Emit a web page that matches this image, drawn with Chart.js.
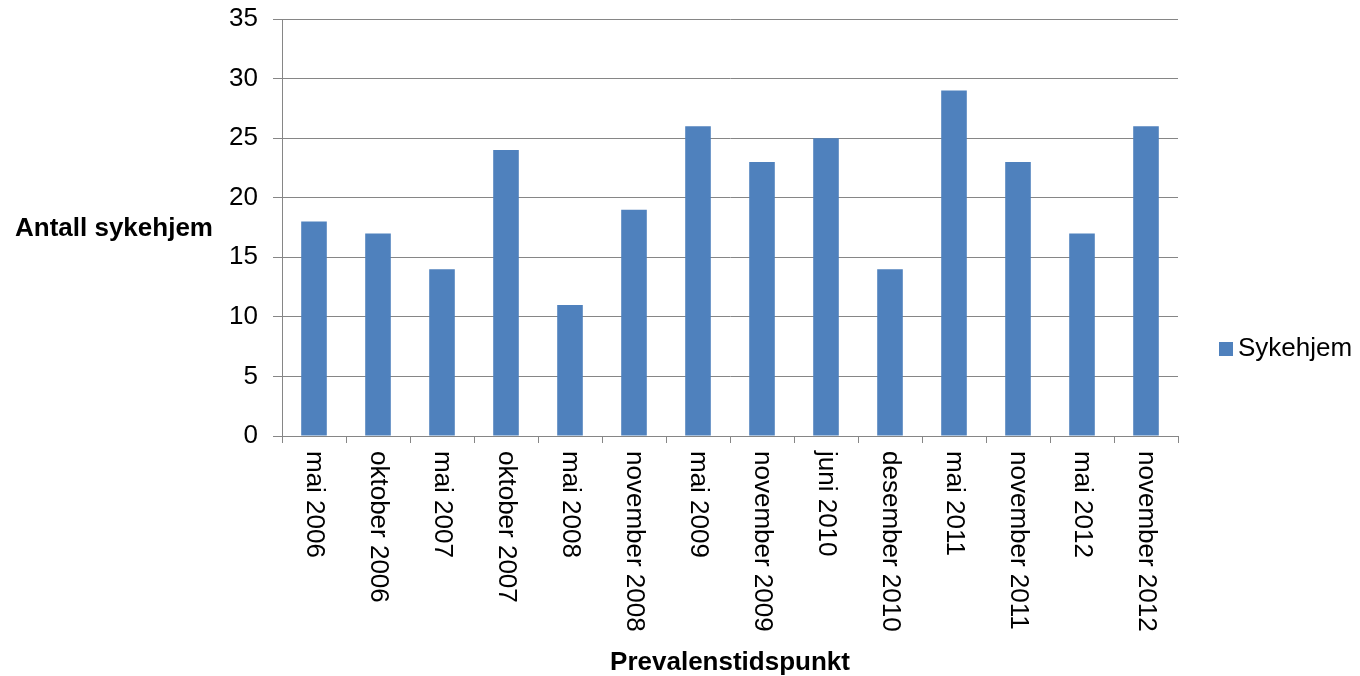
<!DOCTYPE html>
<html lang="no">
<head>
<meta charset="utf-8">
<title>Antall sykehjem per prevalenstidspunkt</title>
<script src="https://cdn.jsdelivr.net/npm/chart.js@4/dist/chart.umd.min.js"></script>
<style>
  html, body { margin: 0; padding: 0; background: #ffffff; }
  #wrap { position: relative; width: 1360px; height: 676px; }
</style>
</head>
<body>
<div id="wrap"><canvas id="chart"></canvas></div>
<script>
// Prevalence survey dates and number of nursing homes taking part
const categories = [
  'mai 2006', 'oktober 2006', 'mai 2007', 'oktober 2007', 'mai 2008',
  'november 2008', 'mai 2009', 'november 2009', 'juni 2010', 'desember 2010',
  'mai 2011', 'november 2011', 'mai 2012', 'november 2012'
];
const sykehjem = [18, 17, 14, 24, 11, 19, 26, 23, 25, 14, 29, 23, 17, 26];
const seriesName = 'Sykehjem';
const yTicks = [0, 5, 10, 15, 20, 25, 30, 35];
const yTitle = 'Antall sykehjem';
const xTitle = 'Prevalenstidspunkt';

const FONT = '"Liberation Sans", Arial, Helvetica, sans-serif';
const BAR = '#4F81BD';
const GRID = '#868686';

// Category labels read top-to-bottom, axis titles and the legend
const decorations = {
  id: 'decorations',
  afterDraw(chart) {
    const ctx = chart.ctx;
    const x = chart.scales.x;
    const area = chart.chartArea;
    ctx.save();
    ctx.fillStyle = '#000000';

    // rotated category labels
    ctx.font = '26px ' + FONT;
    ctx.textAlign = 'left';
    ctx.textBaseline = 'middle';
    categories.forEach((label, i) => {
      const px = x.getPixelForValue(i);
      ctx.save();
      ctx.translate(px, area.bottom + 15);
      ctx.rotate(Math.PI / 2);
      ctx.fillText(label, 0, 0);
      ctx.restore();
    });

    // axis titles
    ctx.font = 'bold 26px ' + FONT;
    ctx.textAlign = 'left';
    ctx.fillText(yTitle, 15, 229);
    ctx.textAlign = 'center';
    ctx.fillText(xTitle, (area.left + area.right) / 2, 663);

    // legend
    const ds = chart.data.datasets[0];
    ctx.fillStyle = ds.backgroundColor;
    ctx.fillRect(1219, 342, 14, 14);
    ctx.fillStyle = '#000000';
    ctx.font = '26px ' + FONT;
    ctx.textAlign = 'left';
    ctx.fillText(ds.label, 1238, 349);
    ctx.restore();
  }
};

new Chart(document.getElementById('chart'), {
  type: 'bar',
  data: {
    labels: categories,
    datasets: [{
      label: seriesName,
      data: sykehjem,
      backgroundColor: BAR,
      borderWidth: 0,
      categoryPercentage: 1.0,
      barPercentage: 0.4
    }]
  },
  options: {
    responsive: true,
    maintainAspectRatio: false,
    animation: false,
    layout: { padding: { top: 19, right: 182, left: 0, bottom: 0 } },
    plugins: {
      legend: { display: false },
      tooltip: { enabled: false }
    },
    scales: {
      x: {
        type: 'category',
        offset: true,
        afterFit(s) {
          s.height = 240;
          s.paddingLeft = 0; s.paddingRight = 0;
        },
        grid: {
          offset: true,
          drawOnChartArea: false,
          drawTicks: true,
          tickLength: 7,
          color: GRID,
          lineWidth: 1
        },
        border: { display: true, color: GRID, width: 1 },
        ticks: { display: false }
      },
      y: {
        min: 0,
        max: 35,
        afterFit(s) {
          s.width = 282;
          s.paddingTop = 0; s.paddingBottom = 0;
        },
        afterBuildTicks(s) { s.ticks = yTicks.map(v => ({ value: v })); },
        grid: {
          color: GRID,
          lineWidth: 1,
          drawTicks: true,
          tickLength: 9
        },
        border: { display: true, color: GRID, width: 1 },
        ticks: {
          color: '#000000',
          padding: 15,
          font: { family: FONT, size: 26 }
        }
      }
    }
  },
  plugins: [decorations]
});
</script>
</body>
</html>
